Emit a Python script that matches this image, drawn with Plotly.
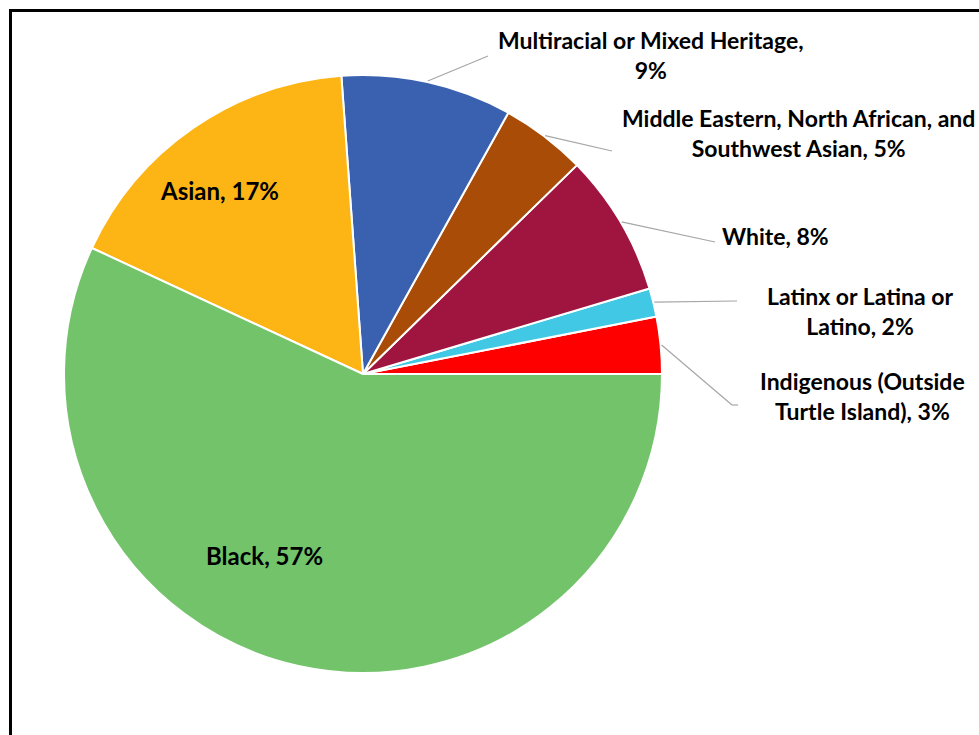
import math
import plotly.graph_objects as go

# Respondent counts by group, in drawing order (counter-clockwise from 3 o'clock)
groups = [
    "Indigenous (Outside Turtle Island)",
    "Latinx or Latina or Latino",
    "White",
    "Middle Eastern, North African, and Southwest Asian",
    "Multiracial or Mixed Heritage",
    "Asian",
    "Black",
]
counts = [2, 1, 5, 3, 6, 11, 37]
colors = ["#FF0000", "#40C8E4", "#A01540", "#A84C08", "#3A61B0", "#FDB515", "#72C36A"]

# How each label is broken into lines ("{p}" is replaced by the percentage)
label_lines = [
    "Indigenous (Outside<br>Turtle Island), {p}",
    "Latinx or Latina or<br>Latino, {p}",
    "White, {p}",
    "Middle Eastern, North African, and<br>Southwest Asian, {p}",
    "Multiracial or Mixed Heritage,<br>{p}",
    "Asian, {p}",
    "Black, {p}",
]

# Canvas and pie geometry (pixels, origin top-left)
W, H = 979, 735
CX, CY, R = 363, 374, 299

# Label placement in pixels: text centre, and leader-line end (None = inside label)
label_pos = [(862, 396), (860, 311), (775, 236), (798, 133), (651, 55), (219, 190), (264, 555)]
label_size = [23, 23, 23, 23, 23, 24, 24]
leader_end = [[(732, 405), (738, 405)], [(737, 301)], [(715, 242)], [(612, 151)], [(488, 56)], None, None]


def px(x, y):
    return x / W, 1 - y / H


total = sum(counts)
# plotly starts a counter-clockwise pie at the end of the first slice, so offset by it
start_rotation = 90 - 360 * counts[0] / total

fig = go.Figure()
fig.add_trace(go.Pie(
    labels=groups,
    values=counts,
    sort=False,
    direction="counterclockwise",
    rotation=start_rotation,
    marker=dict(colors=colors, line=dict(color="white", width=2)),
    textinfo="none",
    hoverinfo="label+percent",
    showlegend=False,
    domain=dict(x=[(CX - R) / W, (CX + R) / W], y=[1 - (CY + R) / H, 1 - (CY - R) / H]),
))

shapes = []
annotations = []
cum = 0.0
for i, v in enumerate(counts):
    mid = (cum + v / 2) / total * 2 * math.pi
    cum += v
    pct = f"{round(v / total * 100)}%"
    tx, ty = px(*label_pos[i])
    annotations.append(dict(
        x=tx, y=ty, xref="paper", yref="paper", xanchor="center", yanchor="middle",
        text="<b>" + label_lines[i].format(p=pct) + "</b>", showarrow=False, align="center",
        font=dict(family="Lato", size=label_size[i], color="#000000"),
    ))
    if leader_end[i]:
        pts = [(CX + (R + 1) * math.cos(mid), CY - (R + 1) * math.sin(mid))] + leader_end[i]
        for (x0, y0), (x1, y1) in zip(pts[:-1], pts[1:]):
            a0, b0 = px(x0, y0)
            a1, b1 = px(x1, y1)
            shapes.append(dict(type="line", xref="paper", yref="paper", x0=a0, y0=b0, x1=a1, y1=b1,
                               line=dict(color="#A6A6A6", width=1.2)))

# Chart frame
bx0, by0 = px(10.5, 10.5)
shapes.append(dict(type="rect", xref="paper", yref="paper", x0=bx0, y0=-0.05, x1=1.05, y1=by0,
                   line=dict(color="#000000", width=3), fillcolor="rgba(0,0,0,0)"))

fig.update_layout(
    width=W, height=H,
    margin=dict(l=0, r=0, t=0, b=0),
    paper_bgcolor="white",
    plot_bgcolor="white",
    shapes=shapes,
    annotations=annotations,
)

fig.write_html("out.html")
